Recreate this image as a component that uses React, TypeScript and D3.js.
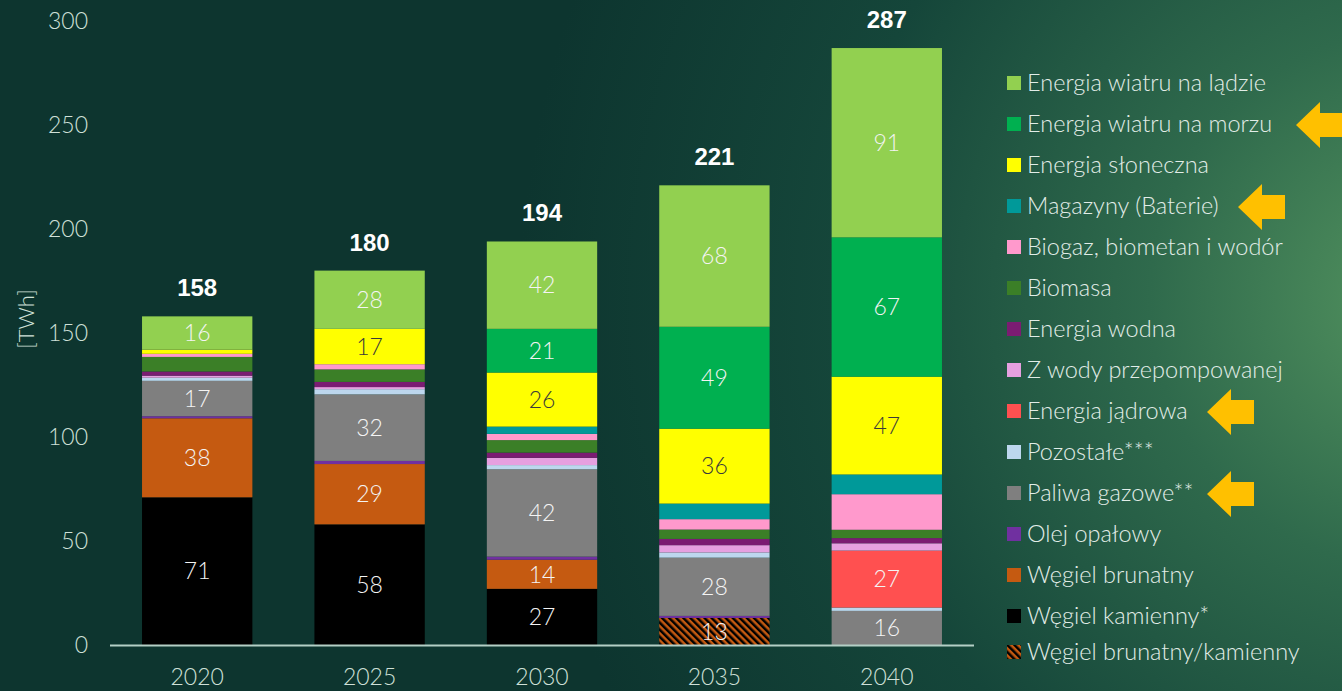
import React, { useRef, useEffect } from 'react';
import * as d3 from 'd3';

const years = ['2020', '2025', '2030', '2035', '2040'];

// series, bottom of the stack first
const mixedCoal = [0, 0, 0, 13, 0];
const hardCoal = [71, 58, 27, 0, 0];
const lignite = [38, 29, 14, 0, 0];
const oil = [1, 1.5, 1.5, 1, 0];
const gas = [17, 32, 42, 28, 16.4];
const other = [1.5, 2.5, 2, 2.5, 1.6];
const nuclear = [0, 0, 0, 0, 27.4];
const pumped = [1, 1, 3.5, 3.5, 3.5];
const hydro = [2, 2.5, 2.5, 3, 2.5];
const biomass = [7, 6, 6, 4.5, 4];
const biogas = [1.5, 2.5, 3, 5, 17.1];
const storage = [0, 0, 3.5, 7.5, 9.5];
const solar = [2, 17, 26, 36, 47];
const offshore = [0, 0, 21, 49, 67];
const onshore = [16, 28, 42, 68, 91];

const yTicks = [0, 50, 100, 150, 200, 250, 300];

const series = [
  { key: 'mixedCoal', name: 'Węgiel brunatny/kamienny', values: mixedCoal, color: 'url(#hatch)', label: true },
  { key: 'hardCoal', name: 'Węgiel kamienny*', values: hardCoal, color: '#000000', label: true },
  { key: 'lignite', name: 'Węgiel brunatny', values: lignite, color: '#c55a11', label: true },
  { key: 'oil', name: 'Olej opałowy', values: oil, color: '#7030a0', label: false },
  { key: 'gas', name: 'Paliwa gazowe**', values: gas, color: '#7f7f7f', label: true },
  { key: 'other', name: 'Pozostałe***', values: other, color: '#bdd7ee', label: false },
  { key: 'nuclear', name: 'Energia jądrowa', values: nuclear, color: '#ff5050', label: true },
  { key: 'pumped', name: 'Z wody przepompowanej', values: pumped, color: '#e6a0e0', label: false },
  { key: 'hydro', name: 'Energia wodna', values: hydro, color: '#7b1c72', label: false },
  { key: 'biomass', name: 'Biomasa', values: biomass, color: '#3b7f27', label: false },
  { key: 'biogas', name: 'Biogaz, biometan i wodór', values: biogas, color: '#ff99cc', label: false },
  { key: 'storage', name: 'Magazyny (Baterie)', values: storage, color: '#009999', label: false },
  { key: 'solar', name: 'Energia słoneczna', values: solar, color: '#ffff00', label: true },
  { key: 'offshore', name: 'Energia wiatru na morzu', values: offshore, color: '#00b050', label: true },
  { key: 'onshore', name: 'Energia wiatru na lądzie', values: onshore, color: '#92d050', label: true },
];

// legend rows that carry a yellow arrow
const arrowed = ['offshore', 'storage', 'nuclear', 'gas'];
const arrowTips: Record<string, number> = { offshore: 1296, storage: 1238, nuclear: 1207, gas: 1207 };

const W = 1342;
const H = 691;

const Chart = () => {
  const svgRef = useRef<SVGSVGElement>(null);

  useEffect(() => {
    const root = d3.select(svgRef.current);
    root.selectAll('*').remove();
    root.attr('width', W).attr('height', H);

    const defs = root.append('defs');
    const grad = defs.append('radialGradient')
      .attr('id', 'bg')
      .attr('gradientUnits', 'userSpaceOnUse')
      .attr('cx', 1420).attr('cy', 300).attr('r', 900);
    grad.append('stop').attr('offset', '0').attr('stop-color', '#53935f');
    grad.append('stop').attr('offset', '0.3').attr('stop-color', '#2f6a4c');
    grad.append('stop').attr('offset', '0.65').attr('stop-color', '#15463a');
    grad.append('stop').attr('offset', '1').attr('stop-color', '#0d352f');

    const hatch = defs.append('pattern')
      .attr('id', 'hatch')
      .attr('patternUnits', 'userSpaceOnUse')
      .attr('width', 5).attr('height', 5)
      .attr('patternTransform', 'rotate(-45)');
    hatch.append('rect').attr('width', 5).attr('height', 5).attr('fill', '#c55a11');
    hatch.append('rect').attr('width', 2.5).attr('height', 5).attr('fill', '#000');

    root.append('rect').attr('width', W).attr('height', H).attr('fill', 'url(#bg)');

    const x = d3.scaleBand().domain(years).range([111, 973]).paddingInner(0.36).paddingOuter(0.18);
    const y = d3.scaleLinear().domain([0, 300]).range([645, 21]);

    const table = years.map((yr, i) => {
      const row: any = { year: yr };
      series.forEach(s => { row[s.key] = s.values[i]; });
      return row;
    });
    const stacked = d3.stack().keys(series.map(s => s.key))(table);

    const font = 'Lato, "Open Sans", sans-serif';
    const axisColor = '#cfe0d8';

    // y axis labels
    const yAxis = root.append('g');
    yAxis.selectAll('text')
      .data(yTicks)
      .enter()
      .append('text')
      .attr('x', 88)
      .attr('y', d => y(d))
      .attr('dy', '0.35em')
      .attr('text-anchor', 'end')
      .attr('font-family', font)
      .attr('font-weight', 300)
      .attr('font-size', 23)
      .attr('fill', axisColor)
      .text(d => d);

    root.append('text')
      .attr('transform', `translate(34, ${y(150) - 14}) rotate(-90)`)
      .attr('text-anchor', 'middle')
      .attr('font-family', font)
      .attr('font-weight', 300)
      .attr('font-size', 22)
      .attr('fill', axisColor)
      .text('[TWh]');

    // bars
    stacked.forEach((layer, si) => {
      const s = series[si];
      const g = root.append('g');
      g.selectAll('rect')
        .data(layer.filter(d => d[1] - d[0] > 0))
        .enter()
        .append('rect')
        .attr('x', d => x(d.data.year as string)!)
        .attr('y', d => y(d[1]))
        .attr('width', x.bandwidth())
        .attr('height', d => y(d[0]) - y(d[1]))
        .attr('fill', s.color);

      if (s.label) {
        g.selectAll('text')
          .data(layer.filter(d => d[1] - d[0] >= 10))
          .enter()
          .append('text')
          .attr('x', d => x(d.data.year as string)! + x.bandwidth() / 2)
          .attr('y', d => y((d[0] + d[1]) / 2))
          .attr('dy', '0.36em')
          .attr('text-anchor', 'middle')
          .attr('font-family', font)
          .attr('font-weight', 300)
          .attr('font-size', 23)
          .attr('fill', s.key === 'solar' ? '#3a3a3a' : '#f4f4f4')
          .text(d => Math.round(d[1] - d[0]));
      }
    });

    // totals
    const top = stacked[stacked.length - 1];
    root.append('g').selectAll('text')
      .data(top)
      .enter()
      .append('text')
      .attr('x', d => x(d.data.year as string)! + x.bandwidth() / 2)
      .attr('y', d => y(d[1]) - 20)
      .attr('text-anchor', 'middle')
      .attr('font-family', '"Liberation Sans", Arial, sans-serif')
      .attr('font-weight', 'bold')
      .attr('font-size', 24)
      .attr('fill', '#ffffff')
      .text(d => Math.round(d[1]));

    // x axis
    root.append('line')
      .attr('x1', 110).attr('x2', 974)
      .attr('y1', y(0) + 0.5).attr('y2', y(0) + 0.5)
      .attr('stroke', '#b4cfc6')
      .attr('stroke-width', 2);

    root.append('g').selectAll('text')
      .data(years)
      .enter()
      .append('text')
      .attr('x', d => x(d)! + x.bandwidth() / 2)
      .attr('y', 685)
      .attr('text-anchor', 'middle')
      .attr('font-family', font)
      .attr('font-weight', 300)
      .attr('font-size', 23)
      .attr('fill', axisColor)
      .text(d => d);

    // legend (top of stack first)
    const legendItems = series.slice().reverse();
    const legend = root.append('g');
    legendItems.forEach((s, i) => {
      const cy = Math.min(83 + i * 41, 652);
      legend.append('rect')
        .attr('x', 1007).attr('y', cy - 7)
        .attr('width', 14).attr('height', 14)
        .attr('fill', s.color);
      legend.append('text')
        .attr('x', 1027).attr('y', cy)
        .attr('dy', '0.35em')
        .attr('font-family', font)
        .attr('font-weight', 300)
        .attr('font-size', 23.5)
        .attr('fill', '#e2ede8')
        .text(s.name);
      if (arrowed.includes(s.key)) {
        const tx = arrowTips[s.key];
        const ty = cy + 1;
        legend.append('polygon')
          .attr('points', [
            [tx, ty], [tx + 24, ty - 23], [tx + 24, ty - 12], [tx + 47, ty - 12],
            [tx + 47, ty + 12], [tx + 24, ty + 12], [tx + 24, ty + 23],
          ].map(p => p.join(',')).join(' '))
          .attr('fill', '#ffc000');
      }
    });
  }, []);

  return <svg ref={svgRef} style={{ display: 'block' }}></svg>;
};

export default function App() {
  return (
    <div style={{ position: 'absolute', left: 0, top: 0, width: W, height: H, overflow: 'hidden' }}>
      <Chart />
    </div>
  );
}
